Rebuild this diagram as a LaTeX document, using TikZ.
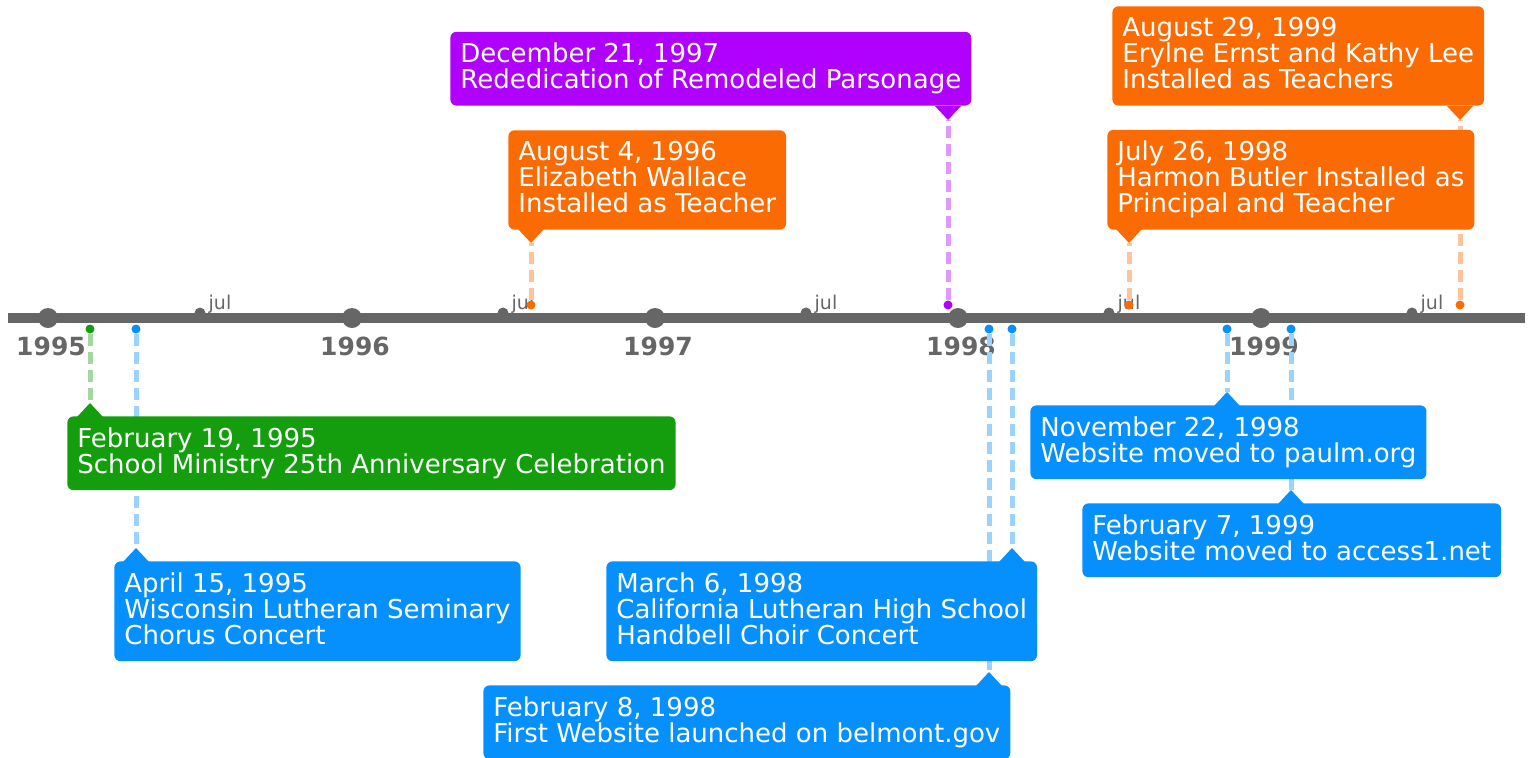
\documentclass[tikz,border=0pt]{standalone}
\usepackage{fontspec}
\setmainfont{DejaVu Sans}
\usepackage{tikz}
\usetikzlibrary{positioning}

\definecolor{axisgray}{HTML}{666666}
\definecolor{evgreen}{HTML}{149E0E}
\definecolor{evblue}{HTML}{0590FE}
\definecolor{evorange}{HTML}{FB6B04}
\definecolor{evpurple}{HTML}{B000FE}

\newcommand{\evfont}{\fontsize{13pt}{13pt}\selectfont}
\newcommand{\yearfont}{\fontsize{12.5pt}{12.5pt}\selectfont\bfseries}
\newcommand{\julfont}{\fontsize{9.5pt}{9.5pt}\selectfont}
\newcommand{\evstrut}{\rule[-3pt]{0pt}{3pt}}

\tikzset{
    evbox/.style={rounded corners=3pt, fill=#1, text=white, align=left, inner xsep=5pt, inner ysep=5.5pt, font=\evfont},
    evdot/.style={circle, fill=#1, inner sep=0pt, minimum size=4.5pt},
    evline/.style={#1!40, line width=2.5pt, dash pattern=on 6pt off 3pt},
    yeardot/.style={circle, fill=axisgray, inner sep=0pt, minimum size=10pt},
    juldot/.style={circle, fill=axisgray, inner sep=0pt, minimum size=5.5pt},
    yearlabel/.style={text=axisgray, font=\yearfont, inner sep=0pt, label distance=4.3pt, xshift=1.5pt},
    jullabel/.style={text=axisgray, font=\julfont, inner sep=0pt, anchor=base west, xshift=1.2pt, yshift=2pt}
}

\begin{document}
\begin{tikzpicture}[x=0.5pt, y=-0.5pt]
        \useasboundingbox (0,0) rectangle (1533,757);

        % axis
        \coordinate (axisL) at (8,318);
        \coordinate (axisR) at (1525,318);
        \draw[axisgray, line width=5pt] (axisL) -- (axisR);

        \node[yeardot, label={[yearlabel]below:1995}] (y1995) at (48,318) {};
        \node[yeardot, label={[yearlabel]below:1996}] (y1996) at (352,318) {};
        \node[yeardot, label={[yearlabel]below:1997}] (y1997) at (655,318) {};
        \node[yeardot, label={[yearlabel]below:1998}] (y1998) at (958,318) {};
        \node[yeardot, label={[yearlabel]below:1999}] (y1999) at (1261,318) {};

        \node[juldot, label={[jullabel]0:jul}] (jul1995) at (200,313) {};
        \node[juldot, label={[jullabel]0:jul}] (jul1996) at (503,313) {};
        \node[juldot, label={[jullabel]0:jul}] (jul1997) at (806,313) {};
        \node[juldot, label={[jullabel]0:jul}] (jul1998) at (1109,313) {};
        \node[juldot, label={[jullabel]0:jul}] (jul1999) at (1412,313) {};

        % event dots
        \node[evdot=evgreen] (feb95) at (90,329) {};
        \node[evdot=evblue] (apr95) at (136,329) {};
        \node[evdot=evorange] (aug96) at (531,305) {};
        \node[evdot=evpurple] (dec97) at (948,305) {};
        \node[evdot=evblue] (feb98) at (989,329) {};
        \node[evdot=evblue] (mar98) at (1012,329) {};
        \node[evdot=evorange] (jul98) at (1129,305) {};
        \node[evdot=evblue] (nov98) at (1227,329) {};
        \node[evdot=evblue] (feb99) at (1291,329) {};
        \node[evdot=evorange] (aug99) at (1460,305) {};

        % pointer tips
        \coordinate (feb95tip) at (90,403);
        \coordinate (apr95tip) at (136,548);
        \coordinate (aug96tip) at (531,243);
        \coordinate (dec97tip) at (948,120);
        \coordinate (feb98tip) at (989,672);
        \coordinate (mar98tip) at (1012,548);
        \coordinate (jul98tip) at (1129,243);
        \coordinate (nov98tip) at (1227,392);
        \coordinate (feb99tip) at (1291,490);
        \coordinate (aug99tip) at (1460,120);

        \draw[evline=evgreen] (feb95) -- (feb95tip);
        \draw[evline=evblue] (apr95) -- (apr95tip);
        \draw[evline=evorange] (aug96) -- (aug96tip);
        \draw[evline=evpurple] (dec97) -- (dec97tip);
        \draw[evline=evblue] (feb98) -- (feb98tip);
        \draw[evline=evblue] (mar98) -- (mar98tip);
        \draw[evline=evorange] (jul98) -- (jul98tip);
        \draw[evline=evblue] (nov98) -- (nov98tip);
        \draw[evline=evblue] (feb99) -- (feb99tip);
        \draw[evline=evorange] (aug99) -- (aug99tip);

        % boxes below the axis
        \node[evbox=evgreen, anchor=north west] (feb95box) at (67,416) {February 19, 1995\\School Ministry 25th Anniversary Celebration\evstrut};
        \fill[evgreen] (feb95tip) -- ++(-13,14) -- ++(26,0) -- cycle;

        \node[evbox=evblue, anchor=north west] (apr95box) at (114,561) {April 15, 1995\\Wisconsin Lutheran Seminary\\Chorus Concert\evstrut};
        \fill[evblue] (apr95tip) -- ++(-13,14) -- ++(26,0) -- cycle;

        \node[evbox=evblue, anchor=north west] (feb98box) at (483,685) {February 8, 1998\\First Website launched on belmont.gov\evstrut};
        \fill[evblue] (feb98tip) -- ++(-13,14) -- ++(26,0) -- cycle;

        \node[evbox=evblue, anchor=north west] (mar98box) at (606,561) {March 6, 1998\\California Lutheran High School\\Handbell Choir Concert\evstrut};
        \fill[evblue] (mar98tip) -- ++(-13,14) -- ++(26,0) -- cycle;

        \node[evbox=evblue, anchor=north west] (nov98box) at (1030,405) {November 22, 1998\\Website moved to paulm.org\evstrut};
        \fill[evblue] (nov98tip) -- ++(-13,14) -- ++(26,0) -- cycle;

        \node[evbox=evblue, anchor=north west] (feb99box) at (1082,503) {February 7, 1999\\Website moved to access1.net\evstrut};
        \fill[evblue] (feb99tip) -- ++(-13,14) -- ++(26,0) -- cycle;

        % boxes above the axis
        \node[evbox=evorange, anchor=south west] (aug96box) at (508,230) {August 4, 1996\\Elizabeth Wallace\\Installed as Teacher\evstrut};
        \fill[evorange] (aug96tip) -- ++(-13,-14) -- ++(26,0) -- cycle;

        \node[evbox=evpurple, anchor=south west] (dec97box) at (450,106) {December 21, 1997\\Rededication of Remodeled Parsonage\evstrut};
        \fill[evpurple] (dec97tip) -- ++(-13,-14) -- ++(26,0) -- cycle;

        \node[evbox=evorange, anchor=south west] (jul98box) at (1107,230) {July 26, 1998\\Harmon Butler Installed as\\Principal and Teacher\evstrut};
        \fill[evorange] (jul98tip) -- ++(-13,-14) -- ++(26,0) -- cycle;

        \node[evbox=evorange, anchor=south west] (aug99box) at (1112,106) {August 29, 1999\\Erylne Ernst and Kathy Lee\\Installed as Teachers\evstrut};
        \fill[evorange] (aug99tip) -- ++(-13,-14) -- ++(26,0) -- cycle;

    \end{tikzpicture}
\end{document}
